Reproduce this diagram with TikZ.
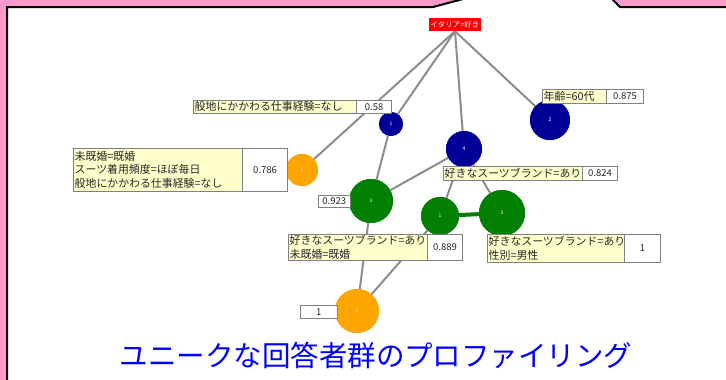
\documentclass[tikz,border=0pt]{standalone}
\usepackage{fontspec}
\setmainfont{Noto Sans CJK JP}
\definecolor{pinkbg}{HTML}{FF99CC}
\definecolor{navyc}{HTML}{000099}
\definecolor{greenc}{HTML}{007F00}
\definecolor{orangec}{HTML}{FFA500}
\definecolor{lightyel}{HTML}{FFFFCC}
\definecolor{edgegray}{HTML}{8C8C8C}
\definecolor{titleblue}{HTML}{0000FF}
\begin{document}
\begin{tikzpicture}[x=1pt,y=-1pt,
  edge/.style={draw=edgegray, line width=2pt},
  circ/.style={circle, inner sep=0pt, text=white, font=\fontsize{5}{6}\selectfont},
  lab/.style={draw=gray, fill=lightyel, anchor=north west, inner xsep=1.5pt, inner ysep=0pt,
              font=\fontsize{10.9}{13.5}\selectfont, align=left, text=black!85},
  val/.style={draw=gray, fill=white, anchor=north west, inner sep=0pt,
              font=\fontsize{9.5}{11}\selectfont, text=black!85},
  rootbox/.style={fill=red, text=white, inner sep=0pt, font=\fontsize{7.5}{8}\selectfont}]
\useasboundingbox (0,0) rectangle (726,380);
% frame
\fill[pinkbg] (0,0) rectangle (726,380);
\fill[white] (7,381) -- (7,7) -- (433,7) -- (461,0) -- (613,0) -- (620,7) -- (727,7) -- (727,381) -- cycle;
\draw[line width=2pt, black, line join=miter] (7,382) -- (7,7) -- (433,7) -- (463,-1);
\draw[line width=2pt, black, line join=miter] (612,-1) -- (620,7) -- (728,7);

% nodes
\node[rootbox, minimum width=52pt, minimum height=13pt] (root) at (455,24.5) {イタリア=好き};
\node[circ, fill=navyc, minimum size=24pt] (n1) at (391,124) {1};
\node[circ, fill=navyc, minimum size=40pt] (n2) at (550,120) {2};
\node[circ, fill=navyc, minimum size=36pt] (n4) at (464,149) {4};
\node[circ, fill=orangec, minimum size=32pt] (o1) at (302,170) {1};
\node[circ, fill=greenc, minimum size=44pt] (g3) at (371,201) {3};
\node[circ, fill=greenc, minimum size=38pt] (g1) at (440,216) {1};
\node[circ, fill=greenc, minimum size=46pt] (g3r) at (502,213) {3};
\node[circ, fill=orangec, minimum size=44pt] (o2) at (357,311) {2};

% edges
\draw[edge] (root.south) -- (o1);
\draw[edge] (root.south) -- (n1);
\draw[edge] (root.south) -- (n4);
\draw[edge] (root.south) -- (n2);
\draw[edge] (n1) -- (g3);
\draw[edge] (n4) -- (g3);
\draw[edge] (n4) -- (g1);
\draw[edge] (n4) -- (g3r);
\draw[edge] (g3) -- (o2);
\draw[edge] (g1) -- (o2);
\draw[draw=greenc, line width=4pt] (g1) -- (g3r);

% redraw circles on top of the connectors
\node[circ, fill=navyc, minimum size=24pt] at (n1) {1};
\node[circ, fill=navyc, minimum size=40pt] at (n2) {2};
\node[circ, fill=navyc, minimum size=36pt] at (n4) {4};
\node[circ, fill=orangec, minimum size=32pt] at (o1) {1};
\node[circ, fill=greenc, minimum size=44pt] at (g3) {3};
\node[circ, fill=greenc, minimum size=38pt] at (g1) {1};
\node[circ, fill=greenc, minimum size=46pt] at (g3r) {3};
\node[circ, fill=orangec, minimum size=44pt] at (o2) {2};
\node[rootbox, minimum width=52pt, minimum height=13pt] at (root) {イタリア=好き};

% labels
\node[lab, text width=160pt, minimum height=13pt] (l1) at (193,100) {般地にかかわる仕事経験=なし};
\node[val, minimum width=35pt, minimum height=13pt] (v1) at (l1.north east) {0.58};

\node[lab, text width=61pt, minimum height=14pt] (l2) at (542,89) {年齢=60代};
\node[val, minimum width=37pt, minimum height=14pt] (v2) at (l2.north east) {0.875};

\node[lab, text width=166pt, minimum height=43pt] (l3) at (73,148) {未既婚=既婚\\スーツ着用頻度=ほぼ毎日\\般地にかかわる仕事経験=なし};
\node[val, minimum width=45pt, minimum height=43pt] (v3) at (l3.north east) {0.786};

\node[val, minimum width=32pt, minimum height=12pt] (v4) at (318,195) {0.923};

\node[lab, text width=136pt, minimum height=14pt] (l5) at (443,166) {好きなスーツブランド=あり};
\node[val, minimum width=35pt, minimum height=14pt] (v5) at (l5.north east) {0.824};

\node[lab, text width=136pt, minimum height=26pt] (l6) at (288,234) {好きなスーツブランド=あり\\未既婚=既婚};
\node[val, minimum width=35pt, minimum height=26pt] (v6) at (l6.north east) {0.889};

\node[lab, text width=134pt, minimum height=28pt] (l7) at (487,234) {好きなスーツブランド=あり\\性別=男性};
\node[val, minimum width=36pt, minimum height=28pt] (v7) at (l7.north east) {1};

\node[val, minimum width=37pt, minimum height=13pt] (v8) at (300,305) {1};

% title
\node[text=titleblue, font=\fontsize{28.5}{30}\selectfont, inner sep=0pt] (title) at (376,355) {ユニークな回答者群のプロファイリング};
\end{tikzpicture}
\end{document}
